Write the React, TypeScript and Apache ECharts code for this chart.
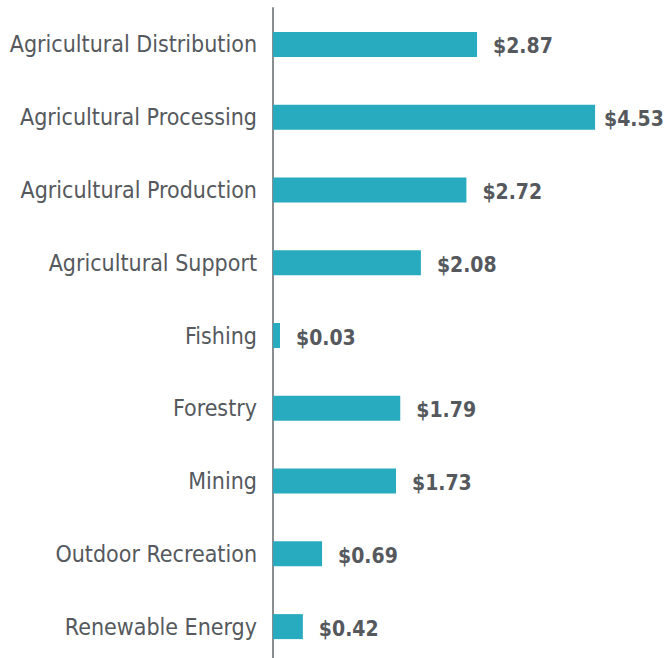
import React, { useEffect, useRef } from "react";
import * as echarts from "echarts";

const categories = [
  "Agricultural Distribution",
  "Agricultural Processing",
  "Agricultural Production",
  "Agricultural Support",
  "Fishing",
  "Forestry",
  "Mining",
  "Outdoor Recreation",
  "Renewable Energy",
];
const values = [2.87, 4.53, 2.72, 2.08, 0.03, 1.79, 1.73, 0.69, 0.42];

const FONT = "'DejaVu Sans Condensed', 'Liberation Sans Narrow', sans-serif";

export default function App() {
  const ref = useRef<HTMLDivElement>(null);
  useEffect(() => {
    if (!ref.current) return;
    const chart = echarts.init(ref.current, null, { renderer: "svg" });
    const maxVal = Math.max(...values);
    const data = values.map((v) =>
      v === maxVal ? { value: v, label: { distance: 9 } } : { value: v }
    );
    chart.setOption({
      animation: false,
      backgroundColor: "#ffffff",
      grid: { left: 273, top: 8, height: 655, right: 38.5, outerBoundsMode: "none", containLabel: false },
      xAxis: {
        type: "value",
        min: 0,
        max: 5,
        show: false,
      },
      yAxis: {
        type: "category",
        inverse: true,
        data: categories,
        axisLine: { show: true, lineStyle: { color: "#8a8d90", width: 2 } },
        axisTick: { show: false },
        splitLine: { show: false },
        axisLabel: {
          margin: 16,
          color: "#55595d",
          fontSize: 23,
          fontFamily: FONT,
        },
      },
      series: [
        {
          type: "bar",
          data,
          barWidth: 25,
          barMinHeight: 7,
          itemStyle: { color: "#28abbf" },
          label: {
            show: true,
            position: "right",
            distance: 16,
            offset: [0, 2],
            formatter: (p: any) => "$" + Number(p.value).toFixed(2),
            color: "#55595d",
            fontSize: 21,
            fontWeight: "bold",
            fontFamily: FONT,
          },
        },
      ],
    });
    return () => chart.dispose();
  }, []);
  return (
    <div
      ref={ref}
      style={{ position: "fixed", left: 0, top: 0, width: 667, height: 658 }}
    />
  );
}
